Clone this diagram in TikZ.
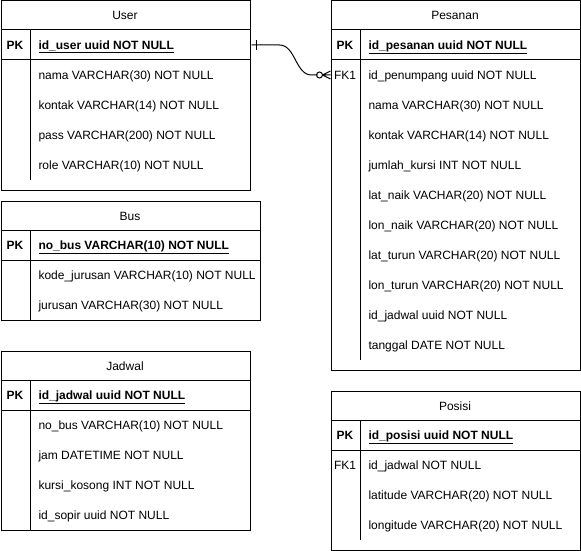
\documentclass[tikz,border=0pt]{standalone}
\usepackage{fontspec}
\setmainfont{Liberation Sans}
\begin{document}
\begin{tikzpicture}[x=1pt,y=-1pt,line width=1pt,
  tbl/.style={draw, line width=1pt, inner sep=0pt, anchor=north west},
  ttl/.style={font=\fontsize{12}{14}\selectfont, anchor=base, inner sep=0pt},
  fld/.style={font=\fontsize{12}{14}\selectfont, anchor=base west, inner sep=0pt},
  pkf/.style={font=\fontsize{12}{14}\selectfont\bfseries, anchor=base west, inner sep=0pt},
  key/.style={font=\fontsize{12}{14}\selectfont, anchor=base, inner sep=0pt},
  pkey/.style={font=\fontsize{12}{14}\selectfont\bfseries, anchor=base, inner sep=0pt},
  rowbox/.style={inner sep=0pt, minimum height=30pt, anchor=west},
  rel/.style={line width=1pt, black}
]
\useasboundingbox (0,0) rectangle (581,551);
\fill[white] (0,0) rectangle (581,551);

% ---------- User ----------
\node[tbl, minimum width=249pt, minimum height=189pt] (user) at (0.5,0.5) {};
\draw (0.5,30) -- (250,30) (0.5,60) -- (250,60) (30,30) -- (30,180);
\node[ttl] (userT) at (125,20) {User};
\node[rowbox, minimum width=250pt] (userPK) at (0.5,45) {};
\node[pkey] (userK) at (15,49.3) {PK};
\node[pkf] (userF0) at (38,49.3) {\underline{id\_user uuid NOT NULL}};
\node[fld] (userF1) at (38,79.3) {nama VARCHAR(30) NOT NULL};
\node[fld] (userF2) at (38,109.3) {kontak VARCHAR(14) NOT NULL};
\node[fld] (userF3) at (38,139.3) {pass VARCHAR(200) NOT NULL};
\node[fld] (userF4) at (38,169.3) {role VARCHAR(10) NOT NULL};

% ---------- Bus ----------
\node[tbl, minimum width=259pt, minimum height=119pt] (bus) at (0.5,200.5) {};
\draw (0.5,230) -- (260,230) (0.5,260) -- (260,260) (30,230) -- (30,320);
\node[ttl] (busT) at (130,220) {Bus};
\node[pkey] (busK) at (15,249.3) {PK};
\node[pkf] (busF0) at (38,249.3) {\underline{no\_bus VARCHAR(10) NOT NULL}};
\node[fld] (busF1) at (38,279.3) {kode\_jurusan VARCHAR(10) NOT NULL};
\node[fld] (busF2) at (38,309.3) {jurusan VARCHAR(30) NOT NULL};

% ---------- Jadwal ----------
\node[tbl, minimum width=249pt, minimum height=179pt] (jadwal) at (0.5,350.5) {};
\draw (0.5,380) -- (250,380) (0.5,410) -- (250,410) (30,380) -- (30,530);
\node[ttl] (jadT) at (125,370) {Jadwal};
\node[pkey] (jadK) at (15,399.3) {PK};
\node[pkf] (jadF0) at (38,399.3) {\underline{id\_jadwal uuid NOT NULL}};
\node[fld] (jadF1) at (38,429.3) {no\_bus VARCHAR(10) NOT NULL};
\node[fld] (jadF2) at (38,459.3) {jam DATETIME NOT NULL};
\node[fld] (jadF3) at (38,489.3) {kursi\_kosong INT NOT NULL};
\node[fld] (jadF4) at (38,519.3) {id\_sopir uuid NOT NULL};

% ---------- Pesanan ----------
\node[tbl, minimum width=249pt, minimum height=369pt] (pesanan) at (330.5,0.5) {};
\draw (330.5,30) -- (580,30) (330.5,60) -- (580,60) (360,30) -- (360,360);
\node[ttl] (pesT) at (455,20) {Pesanan};
\node[pkey] (pesK) at (345,49.3) {PK};
\node[pkf] (pesF0) at (368,49.3) {\underline{id\_pesanan uuid NOT NULL}};
\node[rowbox, minimum width=250pt] (pesFK) at (330.5,75) {};
\node[key] (pesK1) at (345,79.3) {FK1};
\node[fld] (pesF1) at (368,79.3) {id\_penumpang uuid NOT NULL};
\node[fld] (pesF2) at (368,109.3) {nama VARCHAR(30) NOT NULL};
\node[fld] (pesF3) at (368,139.3) {kontak VARCHAR(14) NOT NULL};
\node[fld] (pesF4) at (368,169.3) {jumlah\_kursi INT NOT NULL};
\node[fld] (pesF5) at (368,199.3) {lat\_naik VACHAR(20) NOT NULL};
\node[fld] (pesF6) at (368,229.3) {lon\_naik VARCHAR(20) NOT NULL};
\node[fld] (pesF7) at (368,259.3) {lat\_turun VARCHAR(20) NOT NULL};
\node[fld] (pesF8) at (368,289.3) {lon\_turun VARCHAR(20) NOT NULL};
\node[fld] (pesF9) at (368,319.3) {id\_jadwal uuid NOT NULL};
\node[fld] (pesF10) at (368,349.3) {tanggal DATE NOT NULL};

% ---------- Posisi ----------
\node[tbl, minimum width=249pt, minimum height=159pt] (posisi) at (330.5,390.5) {};
\draw (330.5,420) -- (580,420) (330.5,450) -- (580,450) (360,420) -- (360,540);
\node[ttl] (posT) at (455,410) {Posisi};
\node[pkey] (posK) at (345,439.3) {PK};
\node[pkf] (posF0) at (368,439.3) {\underline{id\_posisi uuid NOT NULL}};
\node[key] (posK1) at (345,469.3) {FK1};
\node[fld] (posF1) at (368,469.3) {id\_jadwal NOT NULL};
\node[fld] (posF2) at (368,499.3) {latitude VARCHAR(20) NOT NULL};
\node[fld] (posF3) at (368,529.3) {longitude VARCHAR(20) NOT NULL};

% ---------- Relationship ----------
\draw[rel] (userPK.east) -- ++(28,0) .. controls ++(16,0) and ++(-16,0) .. ++(32,30) coordinate (cEnd) -- ++(6,0);
\draw[rel] ([xshift=5pt]userPK.east) ++(0,-5) -- ++(0,10);
\draw[rel] ([xshift=-11pt]pesFK.west) circle (3pt);
\draw[rel] ([xshift=-8pt]pesFK.west) -- ([yshift=-4pt]pesFK.west)
           ([xshift=-8pt]pesFK.west) -- (pesFK.west)
           ([xshift=-8pt]pesFK.west) -- ([yshift=4pt]pesFK.west);
\end{tikzpicture}
\end{document}
